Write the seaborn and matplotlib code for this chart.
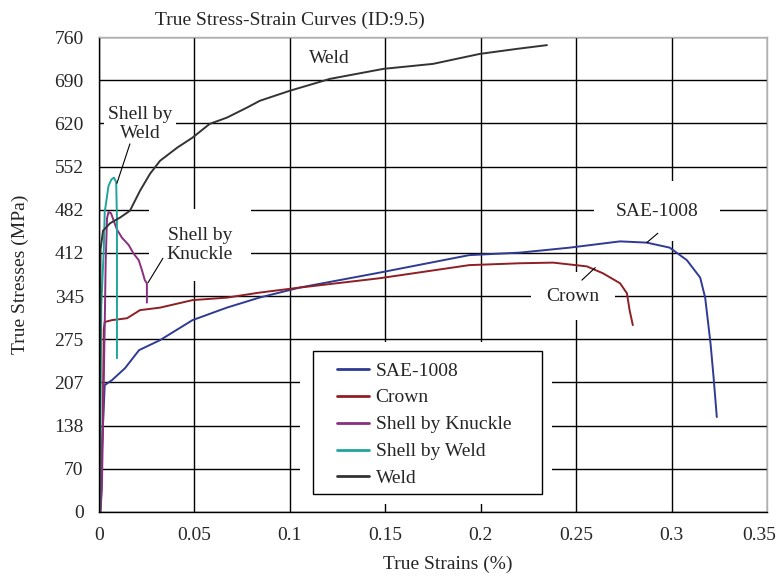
import numpy as np
import pandas as pd
import matplotlib
matplotlib.use("Agg")
import matplotlib.pyplot as plt
import matplotlib.transforms as mtransforms
import seaborn as sns
from matplotlib.patches import Rectangle

# ---------------- data ----------------
sae_strain = [0.0005, 0.0015, 0.003, 0.0068, 0.0136, 0.021, 0.032, 0.049, 0.067, 0.084, 0.105,
              0.147, 0.194, 0.2205, 0.2467, 0.273, 0.287, 0.299, 0.308, 0.315, 0.3176, 0.3204,
              0.322, 0.3237]
sae_stress = [0, 100, 203, 211, 230, 259, 275, 307, 327, 343, 359,
              383, 411, 415, 423, 433, 431, 423, 403, 375, 343, 270,
              216, 152]

crown_strain = [0.0008, 0.002, 0.0025, 0.003, 0.0068, 0.0147, 0.0215, 0.032, 0.049, 0.067, 0.084,
                0.105, 0.147, 0.194, 0.2205, 0.238, 0.2556, 0.264, 0.273, 0.2766, 0.278, 0.2797]
crown_stress = [0, 150, 292, 304, 307, 310, 323, 327, 339, 343, 351,
                359, 374, 395, 398, 399, 393, 382, 366, 350, 323, 299]

knuckle_strain = [0.0007, 0.0015, 0.003, 0.0035, 0.0042, 0.005, 0.0063, 0.0094, 0.012, 0.0156,
                  0.018, 0.0208, 0.0225, 0.024, 0.0251, 0.0251]
knuckle_stress = [0, 35, 300, 400, 470, 480, 478, 452, 439, 427,
                  414, 403, 387, 371, 366, 335]

sweld_strain = [0.0004, 0.0008, 0.0012, 0.0025, 0.003, 0.0042, 0.005, 0.0065, 0.0078, 0.009,
                0.0094, 0.0094]
sweld_stress = [0, 150, 330, 420, 480, 505, 522, 532, 535, 528,
                470, 246]

weld_strain = [0.0003, 0.0006, 0.0008, 0.0021, 0.0058, 0.011, 0.0162, 0.0215, 0.0267, 0.032,
               0.041, 0.049, 0.058, 0.067, 0.0775, 0.0843, 0.1, 0.121, 0.149, 0.175, 0.1996,
               0.219, 0.2347]
weld_stress = [0, 250, 420, 450, 462, 471, 482, 514, 541, 562,
               583, 599, 621, 631, 647, 658, 674, 693, 709, 717, 733,
               741, 747]

series_names = ["SAE-1008", "Crown", "Shell by Knuckle", "Shell by Weld", "Weld"]
series_colors = ["#2E3A94", "#8E1F24", "#8A2E80", "#22A39C", "#333333"]

xtick_vals = [0, 0.05, 0.1, 0.15, 0.2, 0.25, 0.3, 0.35]
xtick_labels = ["0", "0.05", "0.1", "0.15", "0.2", "0.25", "0.3", "0.35"]
ytick_labels = ["0", "70", "138", "207", "275", "345", "412", "482", "552", "620", "690", "760"]

# ---------------- figure ----------------
sns.set_style("white")
plt.rcParams["font.family"] = ["Liberation Serif", "DejaVu Serif"]
plt.rcParams["font.size"] = 14

W, H = 781, 577
fig = plt.figure(figsize=(W / 100, H / 100), dpi=100)
ax = fig.add_axes([99 / W, 1 - 512 / H, (767 - 99) / W, (512 - 37) / H])

frames = []
for name, xs, ys in zip(series_names,
                        [sae_strain, crown_strain, knuckle_strain, sweld_strain, weld_strain],
                        [sae_stress, crown_stress, knuckle_stress, sweld_stress, weld_stress]):
    frames.append(pd.DataFrame({"strain": xs, "stress": ys, "series": name}))
df = pd.concat(frames, ignore_index=True)

palette = dict(zip(series_names, series_colors))
sns.lineplot(data=df, x="strain", y="stress", hue="series", hue_order=series_names,
             palette=palette, sort=False, estimator=None, linewidth=1.4, ax=ax, legend=False,
             zorder=2)

ax.set_xlim(0, 0.35)
ax.set_ylim(0, 760)
ax.set_xticks(xtick_vals)
ax.set_xticklabels(xtick_labels)
yvals = [760 * i / 11 for i in range(12)]
ax.set_yticks(yvals)
ax.set_yticklabels(ytick_labels)
ax.tick_params(axis="both", direction="out", length=5, width=1, color="black",
               labelsize=14, pad=6)
# keep the last x tick label inside the figure
last = ax.get_xticklabels()[-1]
last.set_transform(last.get_transform() +
                   mtransforms.ScaledTranslation(-0.08, 0, fig.dpi_scale_trans))

ax.set_axisbelow(True)
ax.grid(True, color="black", linewidth=1.0)
for s in ["left", "bottom"]:
    ax.spines[s].set_color("black")
    ax.spines[s].set_linewidth(1.0)
for s in ["top", "right"]:
    ax.spines[s].set_color("#b0b0b0")
    ax.spines[s].set_linewidth(1.0)

ax.set_xlabel("True Strains (%)", fontsize=14, labelpad=8)
ax.xaxis.label.set_x((448 - 99) / 668)
ax.set_ylabel("True Stresses (MPa)", fontsize=14, labelpad=18)
fig.text(155 / W, 1 - 20 / H, "True Stress-Strain Curves (ID:9.5)", ha="left", va="center",
         fontsize=14)

# legend: white surround + framed box
ax.add_patch(Rectangle((0.301, 0.017), 0.377, 0.341, transform=ax.transAxes,
                       facecolor="white", edgecolor="none", zorder=1.0))
ax.add_patch(Rectangle((0.320, 0.038), 0.343, 0.301, transform=ax.transAxes,
                       facecolor="white", edgecolor="black", linewidth=1.0, zorder=3))
handles = ax.get_lines()[:5]
leg = ax.legend(handles, series_names, loc="upper left", bbox_to_anchor=(0.356, 0.316),
                frameon=False, fontsize=14, borderpad=0, borderaxespad=0,
                handlelength=1.65, handletextpad=0.35, labelspacing=0.48)
leg.set_zorder(4)
for lh in leg.get_lines():
    lh.set_linewidth(2.0)

# annotations
def label(txt, x, y, pad):
    ax.text(x, y, txt, ha="center", va="center", fontsize=14, zorder=1.2,
            bbox=dict(boxstyle=f"square,pad={pad}", facecolor="white", edgecolor="none"))

def leader(x0, y0, x1, y1):
    ax.annotate("", xy=(x1, y1), xytext=(x0, y0),
                arrowprops=dict(arrowstyle="-", color="black", lw=0.8,
                                shrinkA=0, shrinkB=0), zorder=3)

label("Weld", 0.1205, 725, 0.3)
label("Shell by\nWeld", 0.0215, 621, 0.2)
leader(0.0162, 589, 0.0094, 526)
label("Shell by\nKnuckle", 0.0529, 427, 0.9)
leader(0.0335, 406, 0.0257, 367)
label("SAE-1008", 0.2923, 481, 1.1)
leader(0.2928, 446, 0.287, 431)
label("Crown", 0.2483, 345, 0.8)
leader(0.253, 371, 0.26, 391)

fig.savefig("out.png", dpi=100, facecolor="white")
